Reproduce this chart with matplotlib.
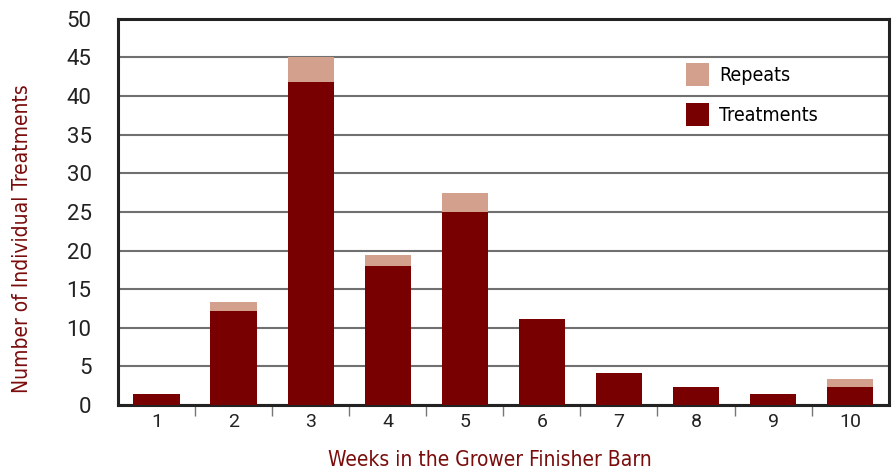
import matplotlib.pyplot as plt
import numpy as np

weeks = ["1", "2", "3", "4", "5", "6", "7", "8", "9", "10"]
treatments = [1.4, 12.2, 41.8, 18.0, 25.0, 11.1, 4.1, 2.3, 1.4, 2.3]
repeats = [0, 1.1, 3.2, 1.4, 2.4, 0, 0, 0, 0, 1.1]

dark_red = "#780000"
pink = "#d4a08e"
label_red = "#7a0c0c"
narrow = dict(family="DejaVu Sans", stretch="condensed")

plt.rcParams["font.family"] = ["Roboto", "DejaVu Sans"]

fig = plt.figure(figsize=(8.94, 4.71), dpi=100)
ax = fig.add_axes([0.132, 0.140, 0.862, 0.820])

x = np.arange(len(weeks))
ax.bar(x, treatments, 0.6, color=dark_red, label="Treatments", zorder=3)
ax.bar(x, repeats, 0.6, bottom=treatments, color=pink, label="Repeats", zorder=3)

ax.set_xlim(-0.5, len(weeks) - 0.5)
ax.set_ylim(0, 50)
ax.set_yticks(range(0, 51, 5))
ax.grid(axis="y", color="#707070", linewidth=1.5, zorder=1)

# category labels centred, tick marks at boundaries
ax.set_xticks(x)
ax.set_xticklabels(weeks)
ax.tick_params(axis="x", length=0, labelsize=14, colors="#222222", pad=6)
ax.set_xticks(np.arange(0.5, len(weeks) - 0.5, 1), minor=True)
ax.tick_params(axis="x", which="minor", length=8, width=1, color="#777777")
ax.tick_params(axis="y", length=0, labelsize=16, colors="#222222", pad=19)

for s in ax.spines.values():
    s.set_linewidth(2.2)
    s.set_color("#222222")

ax.set_xlabel("Weeks in the Grower Finisher Barn", fontsize=15, color=label_red, **narrow)
ax.set_ylabel("Number of Individual Treatments", fontsize=15, color=label_red, **narrow)
ax.xaxis.set_label_coords(0.483, -0.116)
ax.yaxis.set_label_coords(-0.112, 0.43)

h, l = ax.get_legend_handles_labels()
ax.legend(h[::-1], l[::-1], loc="upper left", bbox_to_anchor=(0.714, 0.93),
          frameon=False, prop=dict(size=14, **narrow),
          handlelength=1.2, handleheight=1.4, labelspacing=0.9, handletextpad=0.5)

plt.savefig("out.png", dpi=100)
